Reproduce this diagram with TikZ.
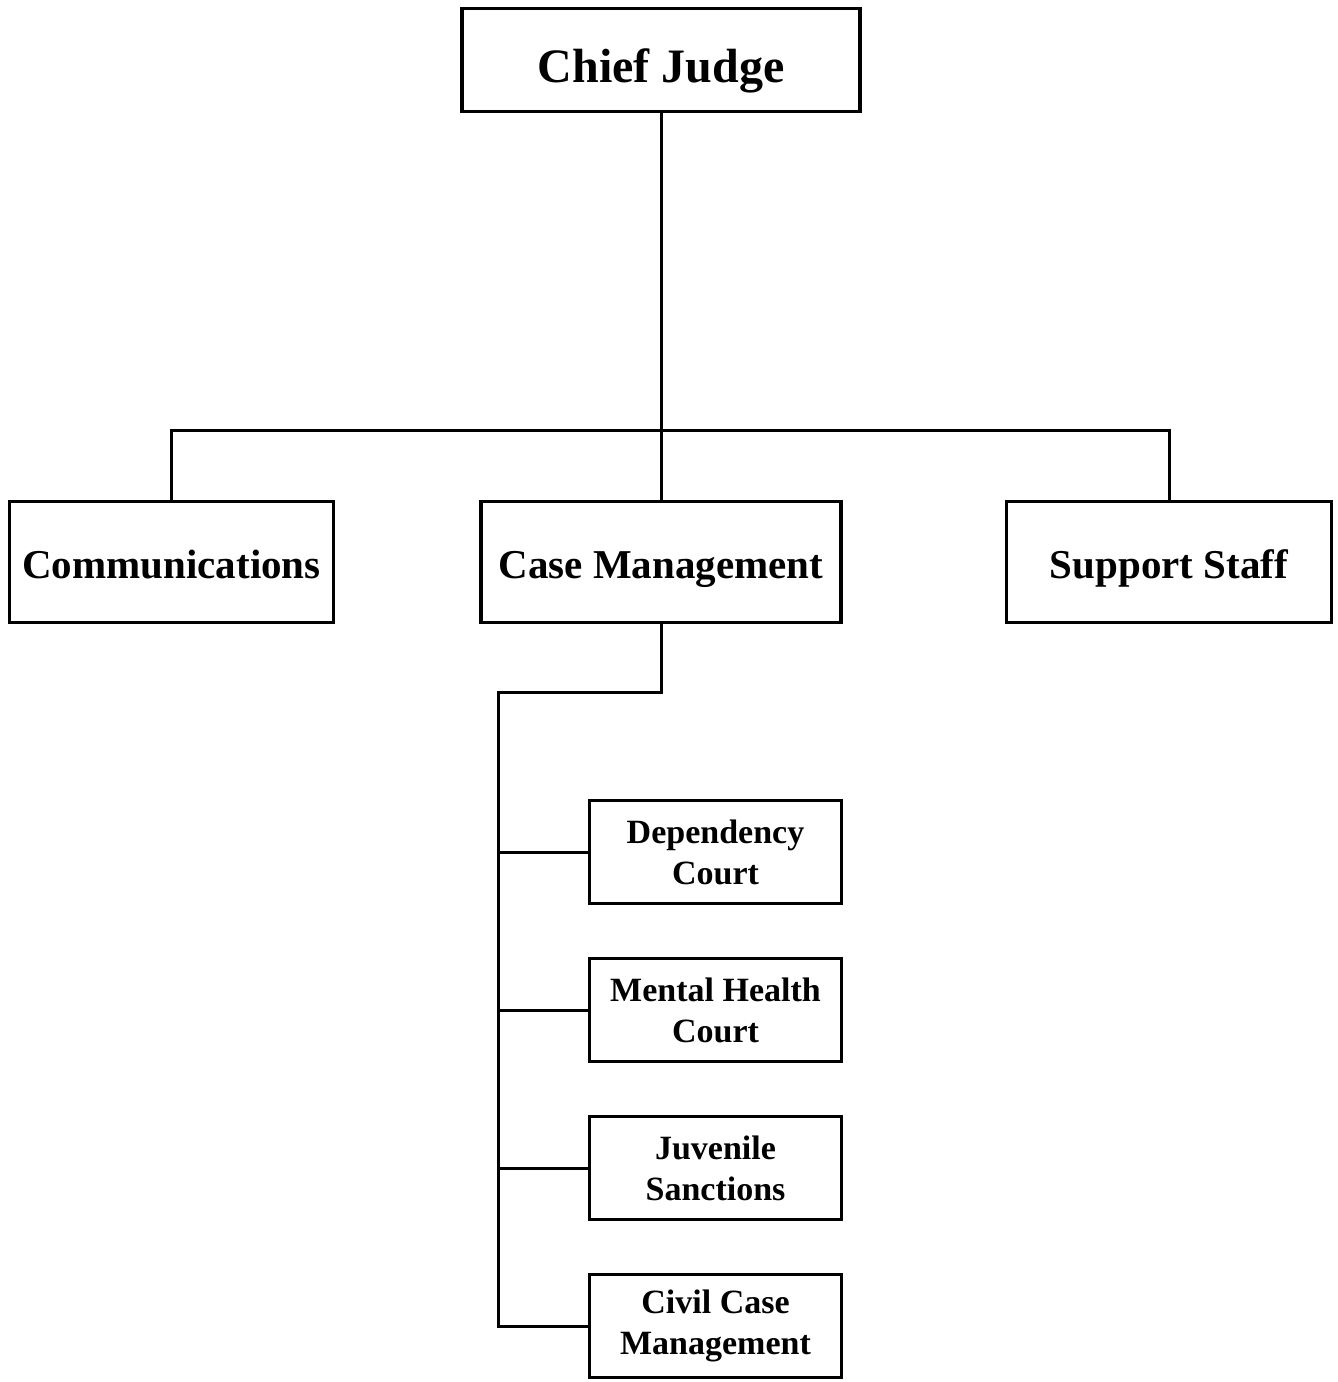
\documentclass[tikz,border=0pt]{standalone}
\usepackage{fontspec}
\setmainfont{Liberation Serif}
\usetikzlibrary{positioning}
\tikzset{box/.style={draw, line width=1.8pt, inner sep=0pt, align=center, font=\bfseries}}
\tikzset{chief/.style={box, minimum width=199pt, minimum height=51.5pt, text height=22pt, text depth=0pt, font=\bfseries\fontsize{24}{28}\selectfont}}
\tikzset{unit/.style={box, minimum height=60.5pt, text height=16pt, text depth=0pt, font=\bfseries\fontsize{20.5}{24}\selectfont}}
\tikzset{subunit/.style={box, minimum width=126pt, minimum height=51.5pt, font=\bfseries\fontsize{17}{20.5}\selectfont}}

\begin{document}
\begin{tikzpicture}[x=0.5pt, y=-0.5pt, node distance=25.7pt, line width=1.5pt]
\useasboundingbox (0,0) rectangle (1338,1382);
% Nodes
\node (judge) [chief] at (661,60) {Chief Judge};
\node (comm) [unit, minimum width=162pt] at (171.5,562) {Communications};
\node (casemgmt) [unit, minimum width=180pt] at (661,562) {Case Management};
\node (staff) [unit, minimum width=162.5pt] at (1169,562) {Support Staff};

\node (dependency) [subunit] at (715.5,852) {Dependency\\Court};
\node (mental) [subunit, below=of dependency] {Mental Health\\Court};
\node (juvenile) [subunit, below=of mental] {Juvenile\\Sanctions};
\node (civil) [subunit, below=of juvenile] {Civil Case\\Management};

\coordinate (busL) at (171.5,430);
\coordinate (busR) at (1169,430);
\coordinate (elbow) at (661,692);
\coordinate (spine) at (498,692);

% Connectors
\draw (judge) -- (casemgmt);
\draw (comm.north) -- (busL) -- (busR) -- (staff.north);
\draw (casemgmt.south) -- (elbow) -- (spine) |- (civil.west);
\foreach \court in {dependency, mental, juvenile}
  \draw (spine |- \court.west) -- (\court.west);

\end{tikzpicture}
\end{document}
